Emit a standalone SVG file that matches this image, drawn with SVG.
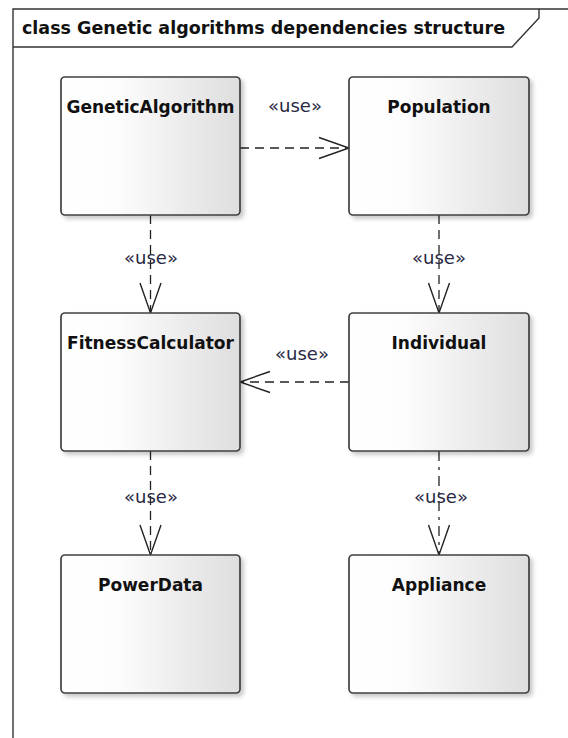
<svg xmlns="http://www.w3.org/2000/svg" width="568" height="738" viewBox="0 0 568 738">
<style>
.frame{fill:none;stroke:#333;stroke-width:1.4}
.box{fill:url(#g);stroke:#404040;stroke-width:1.7;filter:url(#sh)}
.lbl{font-family:"DejaVu Sans",sans-serif;font-weight:bold;font-size:17px;fill:#111;text-anchor:middle}
.title{font-family:"DejaVu Sans",sans-serif;font-weight:bold;font-size:17px;fill:#111}
.use{font-family:"DejaVu Sans",sans-serif;font-size:17px;fill:#2a2a44;text-anchor:middle}
.dep{fill:none;stroke:#222;stroke-width:1.3;stroke-dasharray:9 6;marker-end:url(#arr)}
.dd{stroke-dasharray:10 6 3 6}
</style>
<defs>
<linearGradient id="g" x1="0" y1="0" x2="1" y2="0">
<stop offset="0" stop-color="#ffffff"/>
<stop offset="0.3" stop-color="#fdfdfd"/>
<stop offset="1" stop-color="#dedede"/>
</linearGradient>
<filter id="sh" x="-10%" y="-10%" width="125%" height="125%">
<feDropShadow dx="3" dy="3" stdDeviation="2" flood-color="#000" flood-opacity="0.22"/>
</filter>
<marker id="arr" markerUnits="userSpaceOnUse" markerWidth="34" markerHeight="26" viewBox="0 0 34 26" refX="31" refY="13" orient="auto">
<path d="M1,2.5 L31,13 L1,23.5" fill="none" stroke="#222" stroke-width="1.4" stroke-dasharray="none"/>
</marker>
</defs>
<rect width="568" height="738" fill="#fff"/>
<g id="frame">
<path class="frame" d="M13,738 L13,9 L568,9 M13,47 L512,47 L539,18 L539,9"/>
<text class="title" x="22" y="34" textLength="483" lengthAdjust="spacingAndGlyphs">class Genetic algorithms dependencies structure</text>
</g>
<g id="connectors">
<line class="dep" x1="240" y1="148" x2="349" y2="148"/>
<text class="use" x="295" y="112" textLength="54" lengthAdjust="spacingAndGlyphs">«use»</text>
<line class="dep" x1="150.5" y1="215" x2="150.5" y2="313"/>
<text class="use" x="151" y="264" textLength="54" lengthAdjust="spacingAndGlyphs">«use»</text>
<line class="dep" x1="439" y1="215" x2="439" y2="313"/>
<text class="use" x="439" y="264" textLength="54" lengthAdjust="spacingAndGlyphs">«use»</text>
<line class="dep" x1="349" y1="382" x2="240" y2="382"/>
<text class="use" x="302" y="360" textLength="54" lengthAdjust="spacingAndGlyphs">«use»</text>
<line class="dep" x1="150.5" y1="451" x2="150.5" y2="555"/>
<text class="use" x="151" y="503" textLength="54" lengthAdjust="spacingAndGlyphs">«use»</text>
<line class="dep dd" x1="439" y1="451" x2="439" y2="555"/>
<text class="use" x="441" y="503" textLength="54" lengthAdjust="spacingAndGlyphs">«use»</text>
</g>
<g id="GeneticAlgorithm">
<rect class="box" x="61" y="77" width="179" height="138" rx="4"/>
<text class="lbl" x="150.5" y="113">GeneticAlgorithm</text>
</g>
<g id="Population">
<rect class="box" x="349" y="77" width="180" height="138" rx="4"/>
<text class="lbl" x="439" y="113">Population</text>
</g>
<g id="FitnessCalculator">
<rect class="box" x="61" y="313" width="179" height="138" rx="4"/>
<text class="lbl" x="150.5" y="349">FitnessCalculator</text>
</g>
<g id="Individual">
<rect class="box" x="349" y="313" width="180" height="138" rx="4"/>
<text class="lbl" x="439" y="349">Individual</text>
</g>
<g id="PowerData">
<rect class="box" x="61" y="555" width="179" height="138" rx="4"/>
<text class="lbl" x="150.5" y="591">PowerData</text>
</g>
<g id="Appliance">
<rect class="box" x="349" y="555" width="180" height="138" rx="4"/>
<text class="lbl" x="439" y="591">Appliance</text>
</g>
</svg>
